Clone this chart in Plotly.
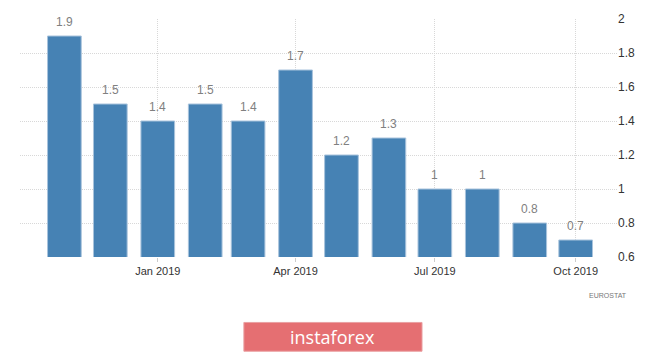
import plotly.graph_objects as go

months = ["2018-11-01", "2018-12-01", "2019-01-01", "2019-02-01", "2019-03-01", "2019-04-01",
          "2019-05-01", "2019-06-01", "2019-07-01", "2019-08-01", "2019-09-01", "2019-10-01"]
values = [1.9, 1.5, 1.4, 1.5, 1.4, 1.7, 1.2, 1.3, 1, 1, 0.8, 0.7]
labels = ["1.9", "1.5", "1.4", "1.5", "1.4", "1.7", "1.2", "1.3", "1", "1", "0.8", "0.7"]
tick_vals = ["2019-01-01", "2019-04-01", "2019-07-01", "2019-10-01"]
tick_text = ["Jan 2019", "Apr 2019", "Jul 2019", "Oct 2019"]
y_ticks = [0.6, 0.8, 1, 1.2, 1.4, 1.6, 1.8, 2]
y_tick_text = ["0.6", "0.8", "1", "1.2", "1.4", "1.6", "1.8", "2"]

DAY_MS = 86400000

fig = go.Figure(go.Bar(
    x=months, y=values,
    marker=dict(color="#4682b4", line=dict(color="#a8c3dc", width=1)),
    width=[22 * DAY_MS] * len(values),
))

annotations = [
    dict(x=m, y=v, xref="x", yref="y", text=t, showarrow=False,
         yanchor="bottom", yshift=5,
         font=dict(color="#808080", size=12, family="Liberation Sans, Arial"))
    for m, v, t in zip(months, values, labels)
]
annotations += [
    dict(text="EUROSTAT", xref="paper", yref="paper", x=0.95, y=-0.1625,
         xanchor="left", yanchor="middle",
         showarrow=False, font=dict(size=7, color="#777", family="Liberation Sans, Arial")),
    dict(text="instaforex", xref="paper", yref="paper", x=0.524, y=-0.3375,
         xanchor="center", yanchor="middle",
         showarrow=False, font=dict(size=18, color="white", family="Open Sans")),
]

fig.update_layout(
    width=665, height=354,
    margin=dict(l=20, r=48, t=17, b=97),
    paper_bgcolor="white", plot_bgcolor="white",
    showlegend=False,
    font=dict(family="Liberation Sans, Arial", size=11, color="#333"),
    xaxis=dict(
        type="date", range=["2018-10-03", "2019-10-28"],
        tickvals=tick_vals, ticktext=tick_text,
        showgrid=True, gridcolor="#d8d8d8", griddash="1px,1px", gridwidth=1,
        ticks="outside", ticklen=4, tickcolor="#ccc",
        showline=False, zeroline=False,
        tickfont=dict(size=11, color="#333"),
    ),
    yaxis=dict(
        side="right", range=[0.6, 2],
        tickvals=y_ticks, ticktext=y_tick_text,
        showgrid=True, gridcolor="#d8d8d8", griddash="1px,1px", gridwidth=1,
        ticks="", showline=False, zeroline=False,
        tickfont=dict(size=12, color="#333"),
    ),
    shapes=[dict(type="rect", xref="paper", yref="paper",
                 x0=0.375, x1=0.6734, y0=-0.396, y1=-0.275,
                 fillcolor="#e56f72", line=dict(color="#e9a0a2", width=1), layer="below")],
    annotations=annotations,
)

fig.write_html("out.html")
